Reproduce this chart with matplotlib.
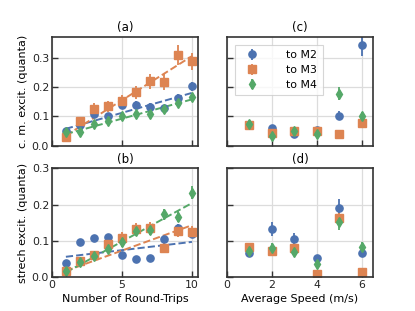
import numpy as np
from matplotlib import pyplot as plt

# round-trip data (panels a, b)
trips = [1, 2, 3, 4, 5, 6, 7, 8, 9, 10]

cm_m2 = [0.052, 0.072, 0.108, 0.101, 0.140, 0.140, 0.132, 0.128, 0.162, 0.202]
cm_m3 = [0.030, 0.085, 0.126, 0.134, 0.153, 0.182, 0.219, 0.217, 0.308, 0.287]
cm_m4 = [0.047, 0.047, 0.075, 0.084, 0.100, 0.107, 0.108, 0.126, 0.145, 0.166]
cm_m2_err = [0.008, 0.008, 0.010, 0.010, 0.012, 0.012, 0.012, 0.012, 0.014, 0.016]
cm_m3_err = [0.008, 0.012, 0.018, 0.020, 0.020, 0.022, 0.026, 0.026, 0.034, 0.030]
cm_m4_err = [0.007, 0.008, 0.009, 0.010, 0.010, 0.011, 0.012, 0.012, 0.013, 0.013]

st_m2 = [0.039, 0.098, 0.109, 0.111, 0.061, 0.051, 0.053, 0.104, 0.135, 0.120]
st_m3 = [0.017, 0.045, 0.060, 0.092, 0.108, 0.133, 0.135, 0.081, 0.127, 0.124]
st_m4 = [0.017, 0.041, 0.057, 0.078, 0.096, 0.128, 0.131, 0.173, 0.167, 0.232]
st_m2_err = [0.006, 0.008, 0.008, 0.008, 0.006, 0.006, 0.006, 0.008, 0.010, 0.010]
st_m3_err = [0.008, 0.010, 0.012, 0.014, 0.016, 0.016, 0.016, 0.012, 0.016, 0.016]
st_m4_err = [0.006, 0.008, 0.008, 0.012, 0.014, 0.016, 0.016, 0.016, 0.016, 0.018]

# dashed fit lines, value at first and last round trip
fit_cm_m2 = [0.058, 0.180]
fit_cm_m3 = [0.035, 0.305]
fit_cm_m4 = [0.040, 0.158]
fit_st_m2 = [0.056, 0.097]
fit_st_m3 = [0.017, 0.143]
fit_st_m4 = [0.013, 0.204]

# speed data (panels c, d)
speed = [1, 2, 3, 4, 5, 6]

sp_cm_m2 = [0.070, 0.062, 0.039, 0.055, 0.103, 0.342]
sp_cm_m3 = [0.072, 0.043, 0.051, 0.049, 0.041, 0.077]
sp_cm_m4 = [0.074, 0.032, 0.049, 0.040, 0.177, 0.103]
sp_cm_m2_err = [0.008, 0.008, 0.008, 0.010, 0.014, 0.037]
sp_cm_m3_err = [0.008, 0.008, 0.010, 0.010, 0.006, 0.010]
sp_cm_m4_err = [0.010, 0.012, 0.012, 0.012, 0.022, 0.012]

sp_st_m2 = [0.067, 0.133, 0.105, 0.052, 0.190, 0.067]
sp_st_m3 = [0.082, 0.072, 0.080, 0.009, 0.162, 0.014]
sp_st_m4 = [0.072, 0.081, 0.069, 0.036, 0.153, 0.084]
sp_st_m2_err = [0.010, 0.020, 0.016, 0.010, 0.025, 0.012]
sp_st_m3_err = [0.012, 0.010, 0.012, 0.004, 0.014, 0.006]
sp_st_m4_err = [0.010, 0.012, 0.012, 0.012, 0.022, 0.012]

labels = ['to M2', 'to M3', 'to M4']
colors = ['#4C72B0', '#DD8452', '#55A868']
markers = ['o', 's', 'd']
msizes = [5.2, 5.2, 5.2]

plt.rcParams['font.family'] = 'DejaVu Sans'
plt.rcParams['font.size'] = 8

fig = plt.figure(figsize=(4.15, 3.11), dpi=100)
ax_a = fig.add_axes([0.125, 0.531, 0.352, 0.350])
ax_c = fig.add_axes([0.547, 0.531, 0.352, 0.350])
ax_b = fig.add_axes([0.125, 0.109, 0.352, 0.350])
ax_d = fig.add_axes([0.547, 0.109, 0.352, 0.350])


def style(ax):
    ax.grid(True, color='#dcdcdc', lw=0.9)
    ax.set_axisbelow(True)
    for s in ax.spines.values():
        s.set_color('#333333')
        s.set_linewidth(1.2)
    ax.tick_params(direction='in', length=4, width=1, color='#333333',
                   labelsize=7.8, labelcolor='#222222', pad=2)


def draw(ax, x, ys, errs):
    for y, e, c, m, ms, lab in zip(ys, errs, colors, markers, msizes, labels):
        ax.errorbar(x, y, yerr=e, fmt=m, color=c, ms=ms, elinewidth=1.3,
                    capsize=0, label=lab)


def fits(ax, x, ends):
    for f, c in zip(ends, colors):
        ax.plot([x[0], x[-1]], f, '--', color=c, lw=1.4)


draw(ax_a, trips, [cm_m2, cm_m3, cm_m4], [cm_m2_err, cm_m3_err, cm_m4_err])
fits(ax_a, trips, [fit_cm_m2, fit_cm_m3, fit_cm_m4])
draw(ax_b, trips, [st_m2, st_m3, st_m4], [st_m2_err, st_m3_err, st_m4_err])
fits(ax_b, trips, [fit_st_m2, fit_st_m3, fit_st_m4])
draw(ax_c, speed, [sp_cm_m2, sp_cm_m3, sp_cm_m4],
     [sp_cm_m2_err, sp_cm_m3_err, sp_cm_m4_err])
draw(ax_d, speed, [sp_st_m2, sp_st_m3, sp_st_m4],
     [sp_st_m2_err, sp_st_m3_err, sp_st_m4_err])

for ax in [ax_a, ax_b, ax_c, ax_d]:
    style(ax)

for ax in [ax_a, ax_b]:
    ax.set_xlim(0, 10.43)
    ax.set_xticks([0, 5, 10])
for ax in [ax_c, ax_d]:
    ax.set_xlim(0, 6.5)
    ax.set_xticks([0, 2, 4, 6])

for ax in [ax_a, ax_c]:
    ax.set_ylim(0, 0.37)
    ax.set_yticks([0, 0.1, 0.2, 0.3])
    ax.set_xticklabels([])
for ax in [ax_b, ax_d]:
    ax.set_ylim(0, 0.3)
    ax.set_yticks([0, 0.1, 0.2, 0.3])

ax_a.set_yticklabels(['0.0', '0.1', '0.2', '0.3'])
ax_b.set_yticklabels(['0.0', '0.1', '0.2', '0.3'])
ax_c.set_yticklabels([])
ax_d.set_yticklabels([])

ax_a.set_title('(a)', fontsize=8.5, pad=4)
ax_b.set_title('(b)', fontsize=8.5, pad=4)
ax_c.set_title('(c)', fontsize=8.5, pad=4)
ax_d.set_title('(d)', fontsize=8.5, pad=4)

ax_a.set_ylabel('c. m. excit. (quanta)', fontsize=8, labelpad=3)
ax_b.set_ylabel('strech excit. (quanta)', fontsize=8, labelpad=3)
ax_b.set_xlabel('Number of Round-Trips', fontsize=8, labelpad=3)
ax_d.set_xlabel('Average Speed (m/s)', fontsize=8, labelpad=3)

leg = ax_c.legend(loc='upper left', fontsize=7.8, handletextpad=2.2,
                  borderpad=0.5, labelspacing=0.45, fancybox=False,
                  bbox_to_anchor=(0.02, 0.98))
leg.get_frame().set_edgecolor('#cccccc')
leg.get_frame().set_linewidth(0.8)

fig.savefig('out.png', dpi=100)
